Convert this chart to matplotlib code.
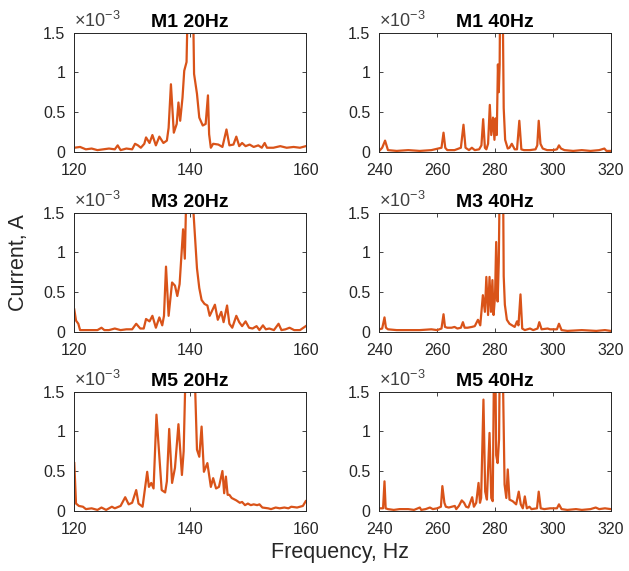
import matplotlib
matplotlib.use('Agg')
import matplotlib.pyplot as plt

plt.rcParams['font.family'] = 'Liberation Sans'
plt.rcParams['mathtext.fontset'] = 'custom'
plt.rcParams['mathtext.rm'] = 'Liberation Sans'
plt.rcParams['mathtext.it'] = 'Liberation Sans:italic'
plt.rcParams['mathtext.bf'] = 'Liberation Sans:bold'

# spectra of the motor current, values in units of 1e-3 A
m1_20_f = [120, 121, 122, 123, 124, 125, 126, 127, 127.5, 128,
           129, 130, 130.5, 131, 131.5, 132.1, 132.4, 133.0, 133.5, 134.1,
           134.7, 135.4, 136.0, 136.3, 136.7, 137.2, 137.7, 138.0, 138.3, 138.7,
           139.0, 139.4, 139.7, 140.1, 140.5, 140.7, 141.2, 141.6, 142.2, 142.7,
           143.1, 143.3, 143.6, 144.0, 144.9, 145.6, 146.3, 146.8, 147.5, 148.0,
           148.5, 149.0, 149.6, 150.3, 151.0, 151.8, 152.4, 152.9, 153.3, 154.4,
           155.6, 156.7, 157.9, 159.0, 160]
m1_20_i = [0.05, 0.06, 0.03, 0.04, 0.02, 0.03, 0.04, 0.03, 0.08, 0.02,
           0.04, 0.03, 0.10, 0.08, 0.05, 0.10, 0.18, 0.11, 0.21, 0.08,
           0.19, 0.11, 0.14, 0.30, 0.85, 0.24, 0.35, 0.62, 0.39, 0.68,
           1.02, 1.13, 2.20, 4.10, 2.00, 0.98, 0.73, 0.43, 0.33, 0.35,
           0.71, 0.22, 0.05, 0.10, 0.09, 0.06, 0.28, 0.08, 0.09, 0.19,
           0.07, 0.11, 0.07, 0.09, 0.06, 0.08, 0.05, 0.11, 0.05, 0.05,
           0.07, 0.05, 0.06, 0.05, 0.07]

m1_40_f = [240, 241, 242, 242.5, 243, 246, 250, 254, 258, 261.5,
           262.2, 262.8, 263.5, 266, 268.2, 269.1, 269.8, 271, 272.0, 273,
           274.5, 275.3, 275.9, 276.5, 277.0, 277.6, 278.2, 278.7, 279.3, 279.8,
           280.2, 280.6, 281.0, 281.3, 281.6, 282.0, 282.5, 283.0, 283.5, 284.4,
           285.0, 285.8, 286.8, 287.6, 288.4, 289.1, 290, 292, 294, 294.6,
           295.1, 295.7, 296.5, 298, 300, 301.4, 302.1, 302.8, 304, 307,
           310, 313, 316, 317.8, 318.5, 320]
m1_40_i = [0.01, 0.05, 0.14, 0.08, 0.02, 0.01, 0.02, 0.01, 0.02, 0.05,
           0.24, 0.05, 0.02, 0.02, 0.05, 0.34, 0.05, 0.02, 0.05, 0.02,
           0.03, 0.08, 0.41, 0.05, 0.03, 0.10, 0.59, 0.21, 0.43, 0.15,
           0.42, 0.21, 1.10, 0.75, 1.10, 3.20, 2.50, 0.55, 0.15, 0.04,
           0.05, 0.10, 0.03, 0.03, 0.39, 0.03, 0.02, 0.02, 0.03, 0.08,
           0.39, 0.10, 0.04, 0.02, 0.02, 0.03, 0.08, 0.04, 0.02, 0.01,
           0.02, 0.01, 0.02, 0.04, 0.01, 0.01]

m3_20_f = [120, 120.3, 120.7, 121.0, 122, 123, 124, 124.7, 125.2, 126,
           127, 128, 129, 130, 130.7, 131.4, 132.0, 132.4, 133.0, 133.5,
           134.1, 134.7, 135.2, 135.5, 135.85, 136.3, 136.9, 137.4, 137.8, 138.2,
           138.8, 139.1, 139.6, 140.1, 140.6, 141.2, 141.6, 142.0, 142.5, 143.0,
           143.4, 144.3, 144.8, 145.4, 145.8, 146.4, 146.8, 147.3, 148.0, 148.5,
           149.0, 149.6, 150.2, 150.8, 151.5, 152.0, 152.6, 153.1, 153.7, 154.5,
           155.3, 155.8, 156.5, 157.2, 158, 159, 160]
m3_20_i = [0.28, 0.14, 0.10, 0.02, 0.02, 0.02, 0.02, 0.05, 0.02, 0.02,
           0.04, 0.02, 0.03, 0.03, 0.10, 0.04, 0.04, 0.16, 0.13, 0.20,
           0.05, 0.18, 0.08, 0.20, 0.82, 0.20, 0.62, 0.58, 0.45, 0.60,
           1.29, 0.92, 2.50, 4.00, 1.50, 0.80, 0.55, 0.40, 0.35, 0.33,
           0.20, 0.34, 0.15, 0.25, 0.12, 0.33, 0.10, 0.05, 0.20, 0.12,
           0.07, 0.13, 0.05, 0.04, 0.07, 0.02, 0.08, 0.03, 0.04, 0.02,
           0.10, 0.02, 0.03, 0.05, 0.02, 0.02, 0.07]

m3_40_f = [240, 241, 241.8, 242.3, 243, 246, 250, 254, 258, 260,
           261.5, 262.2, 262.7, 263.5, 265, 266, 267, 268.2, 268.9, 269.5,
           270.5, 272, 273, 274.1, 274.9, 275.8, 276.5, 277.0, 277.6, 278.1,
           278.6, 279.1, 279.5, 280.0, 280.4, 280.9, 281.3, 281.8, 282.5, 283.0,
           283.4, 284.1, 285.0, 286.8, 287.6, 288.1, 288.8, 289.4, 290.3, 292.1,
           293.2, 294.7, 295.3, 296.1, 298.2, 299, 301.4, 302.1, 303, 305,
           310, 315, 318, 320]
m3_40_i = [0.03, 0.04, 0.18, 0.05, 0.03, 0.02, 0.02, 0.02, 0.03, 0.02,
           0.04, 0.22, 0.06, 0.05, 0.05, 0.06, 0.04, 0.05, 0.12, 0.05,
           0.05, 0.06, 0.07, 0.15, 0.08, 0.46, 0.25, 0.69, 0.21, 0.69,
           0.25, 0.65, 0.21, 0.44, 1.13, 0.38, 0.88, 2.50, 3.50, 0.70,
           0.34, 0.15, 0.10, 0.06, 0.13, 0.08, 0.47, 0.04, 0.02, 0.04,
           0.02, 0.04, 0.12, 0.03, 0.04, 0.03, 0.03, 0.10, 0.02, 0.01,
           0.02, 0.01, 0.02, 0.01]

m5_20_f = [120, 120.3, 120.8, 121.5, 122, 123, 124, 124.7, 125.5, 126.5,
           127, 128, 128.8, 129.4, 130, 130.7, 131.1, 131.8, 132.6, 132.9,
           133.3, 133.7, 134.2, 135.1, 135.7, 136.0, 136.4, 136.9, 137.4, 138.0,
           138.6, 138.9, 139.5, 140.1, 140.7, 141.2, 141.6, 142.0, 142.4, 143.0,
           143.6, 144.0, 144.5, 145.0, 145.6, 145.9, 146.2, 146.5, 146.8, 147.2,
           148.0, 148.6, 149.0, 149.5, 150.0, 150.5, 151.0, 151.6, 152.0, 152.5,
           153.5, 154.0, 154.8, 155.5, 156.3, 157.0, 157.5, 158.5, 159.5, 160]
m5_20_i = [0.60, 0.09, 0.06, 0.05, 0.02, 0.03, 0.01, 0.04, 0.01, 0.05,
           0.03, 0.06, 0.17, 0.08, 0.10, 0.26, 0.09, 0.05, 0.49, 0.30,
           0.35, 0.28, 1.21, 0.26, 0.23, 0.37, 1.03, 0.35, 0.54, 1.09,
           0.45, 0.75, 2.60, 4.50, 2.00, 0.77, 0.68, 1.06, 0.49, 0.60,
           0.30, 0.41, 0.28, 0.30, 0.50, 0.22, 0.43, 0.20, 0.20, 0.16,
           0.13, 0.10, 0.11, 0.07, 0.09, 0.07, 0.08, 0.07, 0.08, 0.04,
           0.03, 0.02, 0.04, 0.03, 0.04, 0.03, 0.05, 0.04, 0.06, 0.12]

m5_40_f = [240, 241.3, 241.8, 242.2, 243, 245, 247, 250, 252, 254,
           254.5, 256, 257.5, 258.5, 260, 261.3, 261.8, 262.5, 263, 264,
           266.1, 266.6, 267.5, 268.5, 269.3, 270, 270.8, 272.1, 272.7, 273.5,
           274.3, 274.8, 275.2, 276.0, 276.6, 277.2, 278.1, 278.7, 279.2, 279.9,
           280.4, 280.9, 281.4, 282.0, 282.6, 283.3, 283.9, 284.4, 285.0, 286.1,
           287.3, 288.2, 288.9, 289.6, 290.3, 291.0, 291.9, 292.6, 294.5, 295.1,
           295.8, 297, 299, 301.4, 302.1, 303, 305, 308, 310, 313,
           314.8, 316, 318, 320]
m5_40_i = [0.03, 0.03, 0.37, 0.03, 0.02, 0.01, 0.02, 0.02, 0.01, 0.04,
           0.01, 0.02, 0.04, 0.02, 0.03, 0.05, 0.31, 0.10, 0.05, 0.04,
           0.06, 0.02, 0.06, 0.13, 0.10, 0.05, 0.04, 0.17, 0.05, 0.10,
           0.35, 0.10, 0.16, 1.40, 0.24, 0.14, 0.98, 0.16, 0.12, 2.80,
           0.70, 0.60, 0.90, 3.50, 2.00, 0.33, 0.16, 0.52, 0.14, 0.12,
           0.08, 0.24, 0.08, 0.03, 0.18, 0.03, 0.05, 0.02, 0.03, 0.24,
           0.03, 0.02, 0.03, 0.03, 0.08, 0.02, 0.01, 0.02, 0.01, 0.02,
           0.04, 0.02, 0.03, 0.02]

titles = ['M1 20Hz', 'M1 40Hz', 'M3 20Hz', 'M3 40Hz', 'M5 20Hz', 'M5 40Hz']
freqs = [m1_20_f, m1_40_f, m3_20_f, m3_40_f, m5_20_f, m5_40_f]
currents = [m1_20_i, m1_40_i, m3_20_i, m3_40_i, m5_20_i, m5_40_i]
ticks_20 = [120, 140, 160]
ticks_40 = [240, 260, 280, 300, 320]
y_ticks = [0, 0.5, 1, 1.5]
y_tick_labels = ['0', '0.5', '1', '1.5']

line_color = '#D95319'
axis_color = '#262626'

fig = plt.figure(figsize=(6.29, 5.71), dpi=100)

lefts = [0.1181, 0.603]
bottoms = [0.7343, 0.4191, 0.1056]
width, height = 0.368, 0.2085

for k in range(6):
    row, col = k // 2, k % 2
    ax = fig.add_axes([lefts[col], bottoms[row], width, height])
    ax.plot(freqs[k], currents[k], color=line_color, lw=1.6)
    xt = ticks_20 if col == 0 else ticks_40
    ax.set_xlim(xt[0], xt[-1])
    ax.set_xticks(xt)
    ax.set_ylim(0, 1.5)
    ax.set_yticks(y_ticks)
    ax.set_yticklabels(y_tick_labels)
    ax.tick_params(direction='in', length=3, width=0.6, top=True, right=True,
                   labelsize=11.5, colors=axis_color)
    ax.tick_params(axis='x', pad=8)
    ax.tick_params(axis='y', pad=6.5)
    for s in ax.spines.values():
        s.set_color(axis_color)
        s.set_linewidth(0.7)
    ax.set_title(titles[k], fontsize=14, fontweight='bold', pad=4)
    # scale factor of the current axis
    ax.text(0, 1.01, r'$\times10^{-3}$', transform=ax.transAxes,
            fontsize=13, color='#404040', va='bottom', ha='left')

fig.text(0.03, 0.54, 'Current, A', rotation=90, fontsize=15.5,
         color=axis_color, ha='center', va='center')
fig.text(0.54, 0.032, 'Frequency, Hz', fontsize=15.5,
         color=axis_color, ha='center', va='center')

fig.savefig('out.png', dpi=100)
